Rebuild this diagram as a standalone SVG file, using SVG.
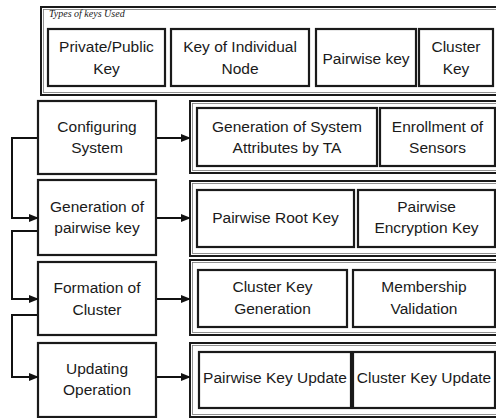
<svg xmlns="http://www.w3.org/2000/svg" width="496" height="418" viewBox="0 0 496 418">
<defs>
<marker id="ah" markerWidth="10" markerHeight="8" refX="9" refY="4" orient="auto" markerUnits="userSpaceOnUse">
<path d="M0,0 L10,4 L0,8 Z" fill="#111"/>
</marker>
</defs>
<style>
.bg{fill:#fff}
.box{fill:#fff;stroke:#1a1a1a;stroke-width:2.2}
.cont{fill:#fff;stroke:#1a1a1a;stroke-width:2}
.cin{fill:none;stroke:#777;stroke-width:0.8}
text{font-family:"Liberation Sans",Arial,sans-serif;font-size:15.5px;fill:#1a1a1a;text-anchor:middle}
.ttl{font-family:"Liberation Serif","Times New Roman",serif;font-style:italic;font-size:10px;text-anchor:start}
.ln{fill:none;stroke:#111;stroke-width:2}
</style>
<rect class="bg" x="0" y="0" width="496" height="418"/>

<g id="types-of-keys">
<rect class="cont" x="41" y="7" width="458" height="88"/>
<rect class="cin" x="43.5" y="9.5" width="453" height="83"/>
<text class="ttl" x="49" y="17">Types of keys Used</text>
</g>
<g id="private-public-key">
<rect class="box" x="48" y="29" width="117" height="57"/>
<text x="106.5" y="51.5">Private/Public</text><text x="106.5" y="74">Key</text>
</g>
<g id="key-individual-node">
<rect class="box" x="171" y="29" width="138" height="57"/>
<text x="240" y="51.5">Key of Individual</text><text x="240" y="74">Node</text>
</g>
<g id="pairwise-key">
<rect class="box" x="316" y="29" width="100" height="57"/>
<text x="366" y="63.5">Pairwise key</text>
</g>
<g id="cluster-key">
<rect class="box" x="419" y="29" width="74" height="57"/>
<text x="456" y="51.5">Cluster</text><text x="456" y="74">Key</text>
</g>

<g id="configuring-system">
<rect class="box" x="38" y="101" width="118" height="73"/>
<text x="97" y="131.5">Configuring</text><text x="97" y="153">System</text>
</g>
<g id="generation-pairwise-key">
<rect class="box" x="38" y="180" width="118" height="75"/>
<text x="97" y="211.5">Generation of</text><text x="97" y="232.5">pairwise key</text>
</g>
<g id="formation-cluster">
<rect class="box" x="38" y="262" width="118" height="73"/>
<text x="97" y="292.5">Formation of</text><text x="97" y="314.5">Cluster</text>
</g>
<g id="updating-operation">
<rect class="box" x="38" y="343" width="118" height="74"/>
<text x="97" y="373.5">Updating</text><text x="97" y="395">Operation</text>
</g>

<g id="configuring-details">
<rect class="cont" x="190" y="101" width="309" height="72"/>
<rect class="cin" x="192.5" y="103.5" width="304" height="67"/>
</g>
<g id="gen-system-attributes">
<rect class="box" x="197" y="108" width="180" height="58"/>
<text x="287" y="131.5">Generation of System</text><text x="287" y="153">Attributes by TA</text>
</g>
<g id="enrollment-sensors">
<rect class="box" x="380" y="108" width="115" height="58"/>
<text x="437.5" y="131.5">Enrollment of</text><text x="437.5" y="153">Sensors</text>
</g>

<g id="pairwise-details">
<rect class="cont" x="190" y="181" width="309" height="75"/>
<rect class="cin" x="192.5" y="183.5" width="304" height="70"/>
</g>
<g id="pairwise-root-key">
<rect class="box" x="197" y="190" width="157" height="57"/>
<text x="275.5" y="223">Pairwise Root Key</text>
</g>
<g id="pairwise-encryption-key">
<rect class="box" x="358" y="190" width="137" height="57"/>
<text x="426.5" y="212">Pairwise</text><text x="426.5" y="233">Encryption Key</text>
</g>

<g id="cluster-details">
<rect class="cont" x="190" y="260" width="309" height="75"/>
<rect class="cin" x="192.5" y="262.5" width="304" height="70"/>
</g>
<g id="cluster-key-generation">
<rect class="box" x="198" y="270" width="149" height="57"/>
<text x="272.5" y="292">Cluster Key</text><text x="272.5" y="313.5">Generation</text>
</g>
<g id="membership-validation">
<rect class="box" x="353" y="270" width="142" height="57"/>
<text x="424" y="292">Membership</text><text x="424" y="313.5">Validation</text>
</g>

<g id="updating-details">
<rect class="cont" x="190" y="343" width="309" height="74"/>
<rect class="cin" x="192.5" y="345.5" width="304" height="69"/>
</g>
<g id="pairwise-key-update">
<rect class="box" x="199" y="352" width="152" height="56"/>
<text x="275" y="383">Pairwise Key Update</text>
</g>
<g id="cluster-key-update">
<rect class="box" x="353" y="352" width="142" height="56"/>
<text x="424" y="383">Cluster Key Update</text>
</g>

<g id="connectors">
<line class="ln" x1="157" y1="138" x2="190" y2="138" marker-end="url(#ah)"/>
<line class="ln" x1="157" y1="218" x2="190" y2="218" marker-end="url(#ah)"/>
<line class="ln" x1="157" y1="299" x2="190" y2="299" marker-end="url(#ah)"/>
<line class="ln" x1="157" y1="377" x2="190" y2="377" marker-end="url(#ah)"/>
<polyline class="ln" points="37,138 12,138 12,218 38,218" marker-end="url(#ah)"/>
<polyline class="ln" points="37,231 12,231 12,299 38,299" marker-end="url(#ah)"/>
<polyline class="ln" points="37,315 12,315 12,377 38,377" marker-end="url(#ah)"/>
</g>
</svg>
